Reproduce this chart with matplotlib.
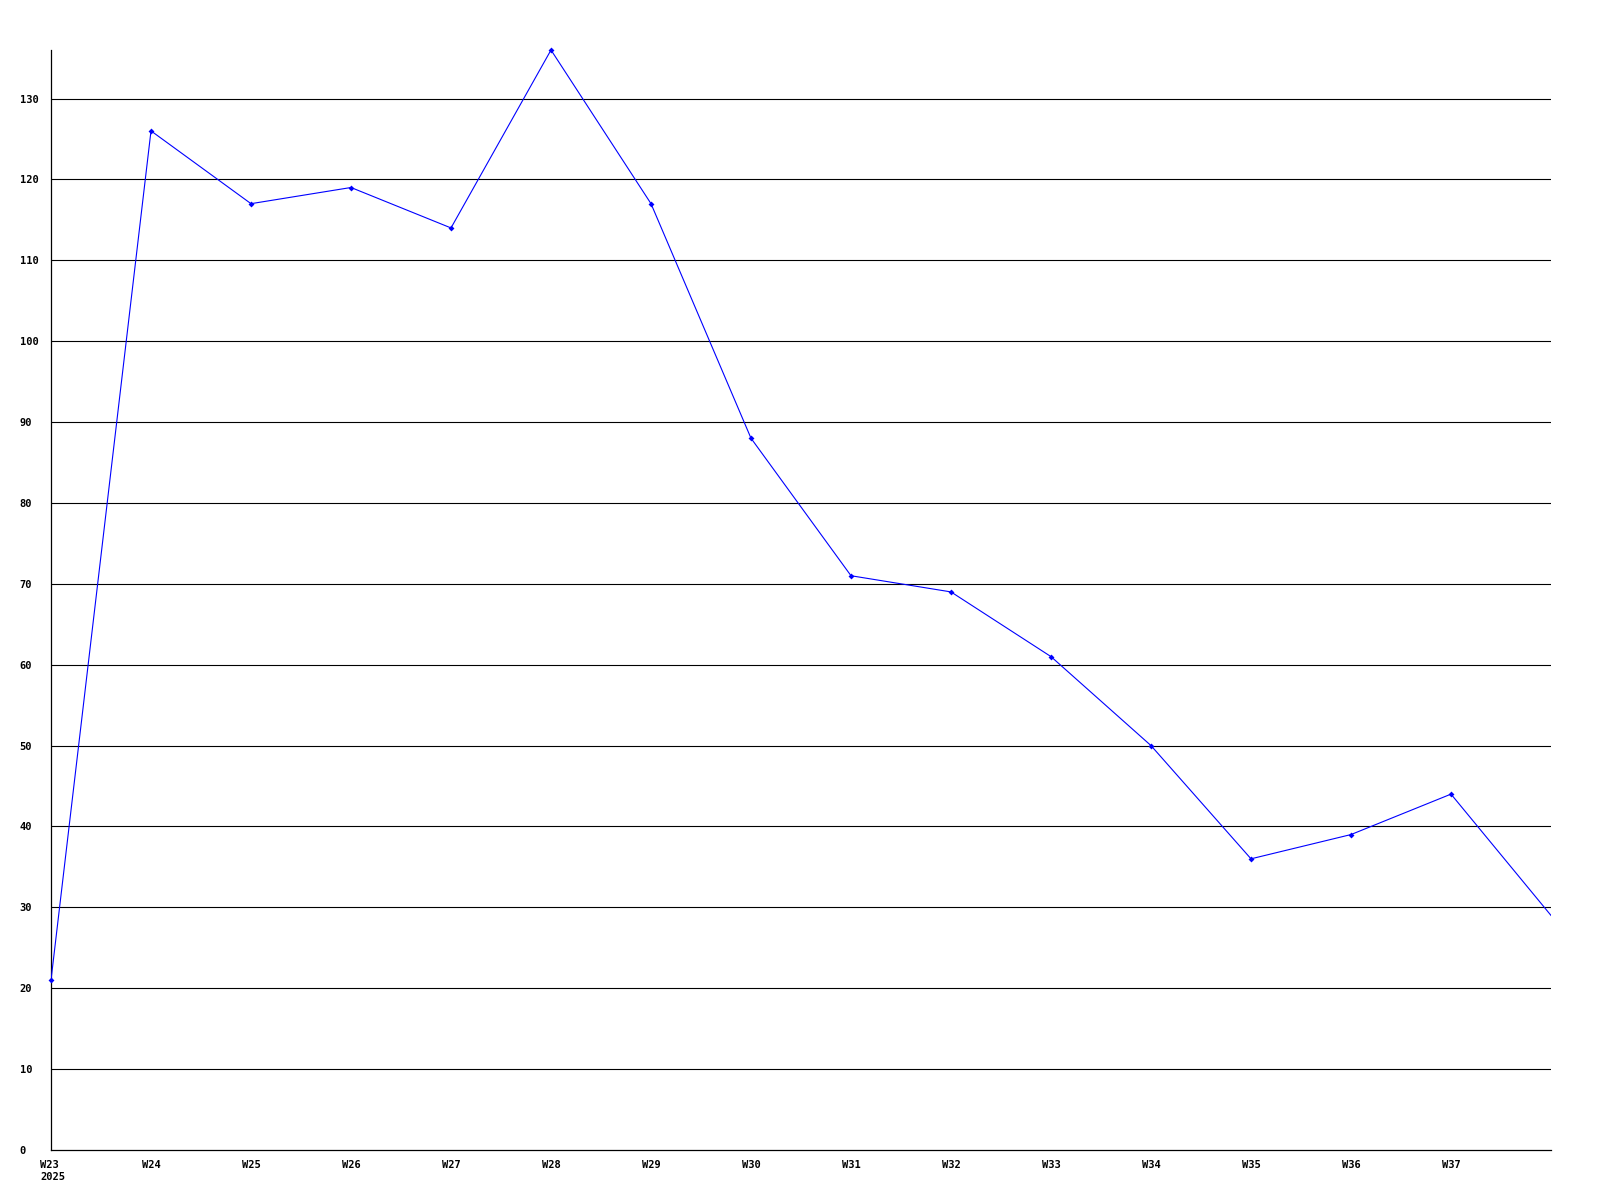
import matplotlib
matplotlib.use("Agg")
import matplotlib.pyplot as plt
from matplotlib.transforms import offset_copy

weeks = ["W23", "W24", "W25", "W26", "W27", "W28", "W29", "W30", "W31",
         "W32", "W33", "W34", "W35", "W36", "W37", "W38"]
values = [21, 126, 117, 119, 114, 136, 117, 88, 71, 69, 61, 50, 36, 39, 44, 29]
tick_labels = ["W23\n2025"] + weeks[1:15]
y_ticks = list(range(0, 140, 10))

fig = plt.figure(figsize=(16, 12), dpi=100)
ax = fig.add_axes([51 / 1600, 50 / 1200, 1500 / 1600, 1100 / 1200])

xs = list(range(len(weeks)))
ax.plot(xs, values, "-", color="#0000ff", lw=0.8, zorder=3, clip_on=True)
ax.plot(xs[:-1], values[:-1], "D", color="#0000ff", ms=3,
        markeredgewidth=0, zorder=4, clip_on=False)

ax.set_xlim(0, len(weeks) - 1)
ax.set_ylim(0, max(values))
for y in y_ticks[1:]:
    ax.axhline(y, color="black", lw=0.8, zorder=1)

font = dict(family="DejaVu Sans Mono", weight="bold", size=7.5)
ax.set_yticks(y_ticks)
ax.set_yticklabels([str(v) for v in y_ticks], **font, ha="left")
ax.set_xticks(xs[:15])
ax.set_xticklabels(tick_labels, **font, linespacing=1.3)
ax.tick_params(axis="both", length=0)
ax.tick_params(axis="x", pad=7)
ax.tick_params(axis="y", pad=22.5)
for lab in ax.get_xticklabels():
    lab.set_verticalalignment("top")
first = ax.get_xticklabels()[0]
first.set_horizontalalignment("left")
first.set_transform(offset_copy(first.get_transform(), fig=fig, x=-11, y=0, units="dots"))

for s in ["top", "right"]:
    ax.spines[s].set_visible(False)
for s in ["left", "bottom"]:
    ax.spines[s].set_color("black")
    ax.spines[s].set_linewidth(0.9)

fig.savefig("out.png", dpi=100, facecolor="white")
